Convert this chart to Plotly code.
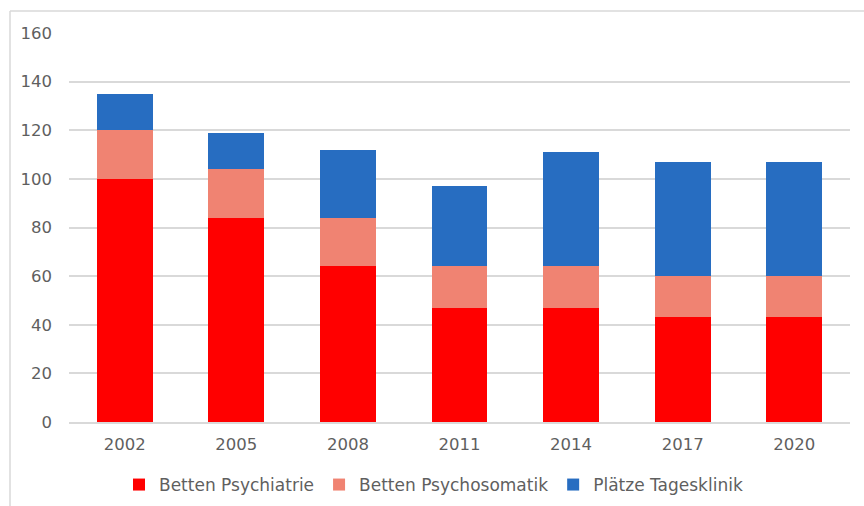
import plotly.graph_objects as go

years = ["2002", "2005", "2008", "2011", "2014", "2017", "2020"]
betten_psychiatrie = [100, 84, 64, 47, 47, 43, 43]
betten_psychosomatik = [20, 20, 20, 17, 17, 17, 17]
plaetze_tagesklinik = [15, 15, 28, 33, 47, 47, 47]
y_ticks = [0, 20, 40, 60, 80, 100, 120, 140, 160]

font_family = "'DejaVu Sans', sans-serif"
text_color = "#5f5f5f"
fs = 16.5
legend_fs = 17

fig = go.Figure()
fig.add_trace(go.Bar(x=years, y=betten_psychiatrie, name="Betten Psychiatrie",
                     marker=dict(color="#FF0000", line=dict(width=0))))
fig.add_trace(go.Bar(x=years, y=betten_psychosomatik, name="Betten Psychosomatik",
                     marker=dict(color="#F08372", line=dict(width=0))))
fig.add_trace(go.Bar(x=years, y=plaetze_tagesklinik, name="Plätze Tagesklinik",
                     marker=dict(color="#276DC1", line=dict(width=0))))

L, R, T, B = 69, 14, 33, 84
W, H = 864, 506
pw, ph = W - L - R, H - T - B

fig.update_layout(
    width=W, height=H,
    margin=dict(l=L, r=R, t=T, b=B, autoexpand=False),
    barmode="stack",
    bargap=0.5,
    plot_bgcolor="white",
    paper_bgcolor="white",
    font=dict(family=font_family, size=fs, color=text_color),
    showlegend=True,
    legend=dict(orientation="h", xref="paper", x=(161 - 42 - L) / pw, xanchor="left",
                yref="container", y=(H - 485) / H, yanchor="middle",
                traceorder="normal", font=dict(size=legend_fs, color=text_color),
                itemwidth=30, bgcolor="rgba(0,0,0,0)"),
    xaxis=dict(showgrid=False, showline=True, linecolor="#D9D9D9", linewidth=2,
               ticks="", tickfont=dict(size=fs, color=text_color), ticklabelstandoff=6),
    yaxis=dict(range=[0, 160], tickvals=y_ticks, showgrid=True, gridcolor="#D9D9D9",
               gridwidth=2, zeroline=False, showline=False, ticks="",
               tickfont=dict(size=fs, color=text_color), ticklabelstandoff=16),
)

# chart area border (top and left edges visible)
bx = (10 - L) / pw
by = 1 + (T - 11) / ph
fig.add_shape(type="line", xref="paper", yref="paper", x0=bx, x1=(W - L) / pw + 0.01,
              y0=by, y1=by, line=dict(color="#D9D9D9", width=1.5))
fig.add_shape(type="line", xref="paper", yref="paper", x0=bx, x1=bx,
              y0=by, y1=-(B + 5) / ph, line=dict(color="#D9D9D9", width=1.5))

fig.write_html("out.html")
